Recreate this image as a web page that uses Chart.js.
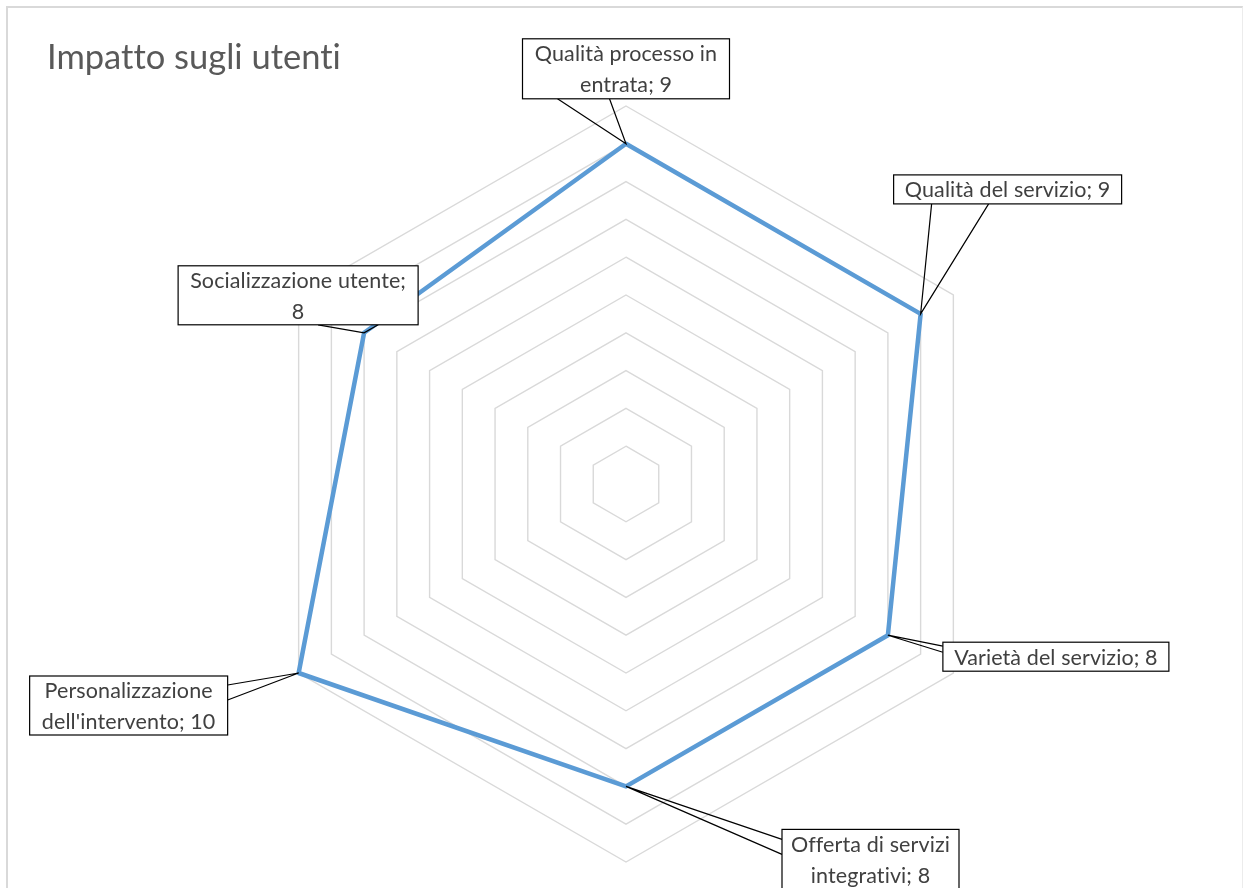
<!DOCTYPE html>
<html>
<head>
<meta charset="utf-8">
<script src="https://cdn.jsdelivr.net/npm/chart.js@4/dist/chart.umd.min.js"></script>
<style>
  html, body { margin: 0; padding: 0; background: #fff; overflow: hidden; }
  #frame {
    position: absolute; left: 6px; top: 6px; width: 1234px; height: 900px;
    border-left: 2px solid #d9d9d9; border-top: 2px solid #d9d9d9; border-right: 1px solid #ececec;
  }
  #title {
    position: absolute; left: 47px; top: 35px;
    font-family: Lato, sans-serif; font-size: 34.5px; color: #595959;
    font-variant-ligatures: none;
  }
  #wrap { position: absolute; left: 0; top: 0; width: 1243px; height: 888px; }
</style>
</head>
<body>
<div id="frame"></div>
<div id="wrap"><canvas id="radar"></canvas></div>
<div id="title">Impatto sugli utenti</div>
<script>
// data
const categories = [
    'Qualità processo in entrata',
    'Qualità del servizio',
    'Varietà del servizio',
    'Offerta di servizi integrativi',
    "Personalizzazione dell'intervento",
    'Socializzazione utente'
];
const scores = [9, 9, 8, 8, 10, 8];
const scaleMin = 0;
const scaleMax = 10;
const scaleStep = 1;

// callout boxes: offset of box centre from the point, box size, wrap width, wedge base
const callouts = [
    { dx: 0,     dy: -75,   w: 207, h: 60, wrap: 197, side: 'bottom', base: [-68.5, -16.5] },
    { dx: 87,    dy: -124.5, w: 228, h: 29, wrap: 400, side: 'bottom', base: [-76, -19] },
    { dx: 168,   dy: 21.5,  w: 226, h: 29, wrap: 400, side: 'left',   base: [-10.5, -4.5] },
    { dx: 244.5, dy: 73,    w: 177, h: 60, wrap: 170, side: 'left',   base: [-20, -5] },
    { dx: -170,  dy: 32.5,  w: 198, h: 59, wrap: 190, side: 'right',  base: [-20.5, -5.5] },
    { dx: -66,   dy: -37.5, w: 240, h: 59, wrap: 226, side: 'bottom', base: [20, 80] }
];

function wrapText(ctx, text, maxW) {
    const words = text.split(' ');
    const lines = [];
    let cur = '';
    words.forEach(w => {
        const test = cur ? cur + ' ' + w : w;
        if (ctx.measureText(test).width > maxW && cur) {
            lines.push(cur);
            cur = w;
        } else {
            cur = test;
        }
    });
    if (cur) lines.push(cur);
    return lines;
}

const calloutPlugin = {
    id: 'callouts',
    afterDatasetsDraw(chart) {
        const ctx = chart.ctx;
        const meta = chart.getDatasetMeta(0);
        ctx.save();
        ctx.font = '21.5px Lato, sans-serif';
        ctx.letterSpacing = '0.1px'; // stops Lato's "ti" ligature
        meta.data.forEach((pt, i) => {
            const c = callouts[i];
            const cx = pt.x + c.dx, cy = pt.y + c.dy;
            const left = cx - c.w / 2, top = cy - c.h / 2;

            // wedge legs
            let b1, b2;
            if (c.side === 'bottom') {
                b1 = [cx + c.base[0], top + c.h];
                b2 = [cx + c.base[1], top + c.h];
            } else if (c.side === 'left') {
                b1 = [left, cy + c.base[0]];
                b2 = [left, cy + c.base[1]];
            } else {
                b1 = [left + c.w, cy + c.base[0]];
                b2 = [left + c.w, cy + c.base[1]];
            }
            ctx.strokeStyle = '#000';
            ctx.lineWidth = 1.2;
            ctx.beginPath();
            ctx.moveTo(b1[0], b1[1]);
            ctx.lineTo(pt.x, pt.y);
            ctx.lineTo(b2[0], b2[1]);
            ctx.stroke();

            // box
            ctx.fillStyle = '#fff';
            ctx.fillRect(left, top, c.w, c.h);
            ctx.strokeRect(left, top, c.w, c.h);

            // text
            const lines = wrapText(ctx, categories[i] + '; ' + scores[i], c.wrap);
            const lh = 31;
            ctx.fillStyle = '#404040';
            ctx.textAlign = 'center';
            ctx.textBaseline = 'middle';
            lines.forEach((ln, k) => {
                ctx.fillText(ln, cx, cy + (k - (lines.length - 1) / 2) * lh + 1);
            });
        });
        ctx.restore();
    }
};

new Chart(document.getElementById('radar').getContext('2d'), {
    type: 'radar',
    data: {
        labels: categories,
        datasets: [{
            data: scores,
            borderColor: '#5b9bd5',
            borderWidth: 4.5,
            borderJoinStyle: 'round',
            fill: false,
            pointRadius: 0,
            pointHoverRadius: 0,
            tension: 0
        }]
    },
    options: {
        responsive: true,
        maintainAspectRatio: false,
        animation: false,
        layout: { padding: { top: 106, bottom: 26, left: 248, right: 239 } },
        plugins: {
            legend: { display: false },
            tooltip: { enabled: false }
        },
        scales: {
            r: {
                min: scaleMin,
                max: scaleMax,
                ticks: { display: false, stepSize: scaleStep },
                pointLabels: { display: false },
                angleLines: { display: false },
                grid: { color: '#d9d9d9', lineWidth: 1.4 }
            }
        }
    },
    plugins: [calloutPlugin]
});
</script>
</body>
</html>
